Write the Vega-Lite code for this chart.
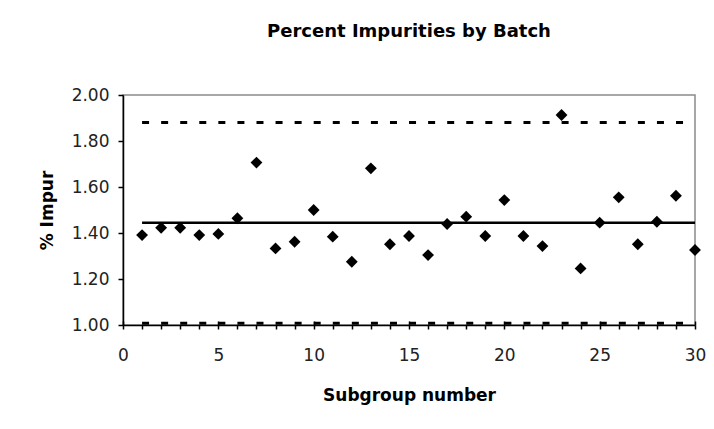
{
  "$schema": "https://vega.github.io/schema/vega-lite/v6.json",
  "autosize": {"type": "none"},
  "width": 572,
  "height": 230,
  "padding": {"left": 123, "top": 95, "right": 19, "bottom": 104},
  "background": "white",
  "title": {
    "text": "Percent Impurities by Batch",
    "font": "DejaVu Sans",
    "fontSize": 18,
    "fontWeight": "bold",
    "color": "black",
    "anchor": "middle",
    "frame": "group",
    "offset": 45
  },
  "config": {
    "view": {"stroke": "#8a8a8a", "strokeWidth": 1.5},
    "axis": {
      "labelFont": "DejaVu Sans",
      "labelFontSize": 17,
      "labelColor": "#222",
      "titleFont": "DejaVu Sans",
      "titleFontSize": 17,
      "titleFontWeight": "bold",
      "titleColor": "black",
      "domainColor": "black",
      "domainWidth": 1.5,
      "tickColor": "black",
      "tickWidth": 1.5,
      "grid": false
    }
  },
  "datasets": {
    "points": [
      {"subgroup": 1, "impur": 1.391},
      {"subgroup": 2, "impur": 1.423},
      {"subgroup": 3, "impur": 1.423},
      {"subgroup": 4, "impur": 1.391},
      {"subgroup": 5, "impur": 1.396},
      {"subgroup": 6, "impur": 1.464},
      {"subgroup": 7, "impur": 1.706},
      {"subgroup": 8, "impur": 1.333},
      {"subgroup": 9, "impur": 1.362},
      {"subgroup": 10, "impur": 1.5},
      {"subgroup": 11, "impur": 1.384},
      {"subgroup": 12, "impur": 1.275},
      {"subgroup": 13, "impur": 1.681},
      {"subgroup": 14, "impur": 1.351},
      {"subgroup": 15, "impur": 1.387},
      {"subgroup": 16, "impur": 1.304},
      {"subgroup": 17, "impur": 1.439},
      {"subgroup": 18, "impur": 1.471},
      {"subgroup": 19, "impur": 1.387},
      {"subgroup": 20, "impur": 1.543},
      {"subgroup": 21, "impur": 1.387},
      {"subgroup": 22, "impur": 1.343},
      {"subgroup": 23, "impur": 1.913},
      {"subgroup": 24, "impur": 1.246},
      {"subgroup": 25, "impur": 1.445},
      {"subgroup": 26, "impur": 1.555},
      {"subgroup": 27, "impur": 1.351},
      {"subgroup": 28, "impur": 1.449},
      {"subgroup": 29, "impur": 1.562},
      {"subgroup": 30, "impur": 1.326}
    ],
    "limits": [
      {"limit": "UCL", "start": 1, "end": 30, "value": 1.88},
      {"limit": "LCL", "start": 1, "end": 30, "value": 1.008}
    ],
    "center": [
      {"limit": "CL", "start": 1, "end": 30, "value": 1.445}
    ]
  },
  "resolve": {"axis": {"x": "independent"}},
  "layer": [
    {
      "data": {"name": "limits"},
      "mark": {"type": "rule", "color": "black", "strokeWidth": 3, "strokeDash": [7, 12.07]},
      "encoding": {
        "x": {
          "field": "start",
          "type": "quantitative",
          "axis": {
            "orient": "bottom",
            "values": [0, 5, 10, 15, 20, 25, 30],
            "tickSize": -4,
            "labels": false,
            "domain": false,
            "title": null
          }
        },
        "x2": {"field": "end"},
        "y": {"field": "value", "type": "quantitative"}
      }
    },
    {
      "data": {"name": "center"},
      "mark": {"type": "rule", "color": "black", "strokeWidth": 2.5},
      "encoding": {
        "x": {"field": "start", "type": "quantitative", "axis": null},
        "x2": {"field": "end"},
        "y": {"field": "value", "type": "quantitative"}
      }
    },
    {
      "data": {"name": "points"},
      "mark": {"type": "point", "shape": "diamond", "filled": true, "color": "black", "opacity": 1, "size": 140},
      "encoding": {
        "x": {
          "field": "subgroup",
          "type": "quantitative",
          "scale": {"domain": [0, 30], "nice": false, "zero": false},
          "axis": {
            "orient": "bottom",
            "title": "Subgroup number",
            "tickCount": 30,
            "labelExpr": "datum.value % 5 === 0 ? datum.label : ''",
            "labelOverlap": false,
            "labelFlush": false,
            "tickSize": 4,
            "labelPadding": 18,
            "titlePadding": 24
          }
        },
        "y": {
          "field": "impur",
          "type": "quantitative",
          "scale": {"domain": [1, 2], "nice": false, "zero": false},
          "axis": {
            "title": "% Impur",
            "values": [1, 1.2, 1.4, 1.6, 1.8, 2],
            "format": ".2f",
            "tickSize": 5,
            "labelPadding": 9,
            "titlePadding": 15
          }
        }
      }
    }
  ]
}
